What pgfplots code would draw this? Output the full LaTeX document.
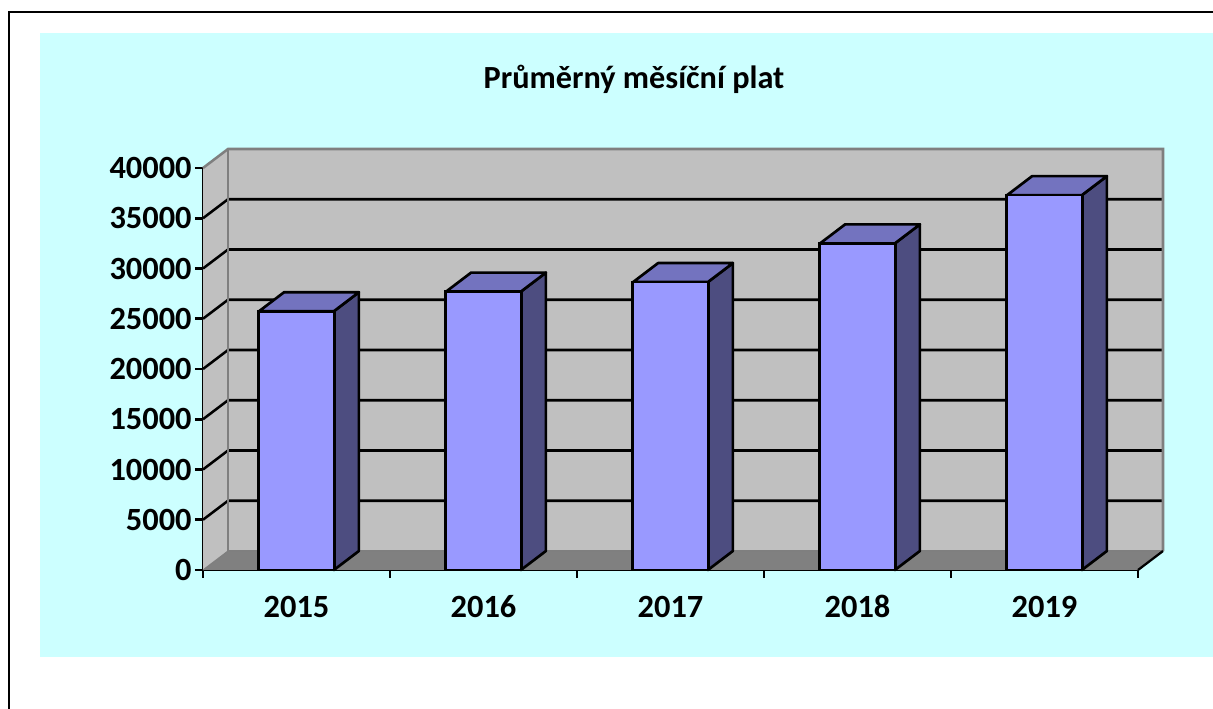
\documentclass[border=0pt]{standalone}
\usepackage{pgfplots}
\pgfplotsset{compat=1.18}
\usepackage{fontspec}
\setmainfont{Carlito}
\definecolor{bgc}{HTML}{CCFFFF}
\definecolor{wallc}{HTML}{C0C0C0}
\definecolor{floorc}{HTML}{808080}
\definecolor{edgec}{HTML}{7F7F7F}
\definecolor{frontc}{HTML}{9999FF}
\definecolor{topc}{HTML}{7373BF}
\definecolor{sidec}{HTML}{4D4D80}
\newcommand\gridl[2]{%
  \addplot[black,line width=1.9pt] coordinates {(0,#1) (0.1337,#2) (5.1337,#2)};}
\newcommand\cube[2]{%
  \addplot[fill=sidec,draw=black,line width=2pt,line join=round] coordinates {(#1+0.2,0) (#1+0.3337,1890) (#1+0.3337,#2+1890) (#1+0.2,#2)} -- cycle;
  \addplot[fill=topc,draw=black,line width=2pt,line join=round] coordinates {(#1-0.2,#2) (#1+0.2,#2) (#1+0.3337,#2+1890) (#1-0.0663,#2+1890)} -- cycle;}
\begin{document}
\begin{tikzpicture}
\useasboundingbox (0,0) rectangle (909.75pt,531.75pt);
\fill[white] (0,0) rectangle (909.75pt,531.75pt);
\draw[black,line width=1.7pt] (6.75pt,-4pt) -- (6.75pt,522.75pt) -- (915pt,522.75pt);
\fill[bgc] (30pt,39pt) rectangle (909.75pt,507pt);
\begin{axis}[
  at={(152.25pt,104.25pt)},anchor=south west,
  scale only axis,width=701.25pt,height=301.5pt,
  xmin=0,xmax=5,ymin=0,ymax=40000,
  clip=false,
  axis lines=left,
  axis line style={-,black,line width=2.2pt},
  xtick={0.5,1.5,2.5,3.5,4.5},
  xticklabels={2015,2016,2017,2018,2019},
  minor xtick={0,1,2,3,4,5},
  ytick={0,5000,10000,15000,20000,25000,30000,35000,40000},
  tick align=outside,
  major tick length=6pt,
  x tick style={draw=none},
  minor x tick style={draw=black,line width=1.9pt},
  minor tick length=6pt,
  y tick style={black,line width=1.9pt},
  scaled y ticks=false,
  /pgf/number format/assume math mode=true,
  /pgf/number format/1000 sep={},
  tick label style={font=\bfseries\fontsize{24.3}{27}\selectfont,black},
  xticklabel style={yshift=-10pt,text height=16pt,text depth=0pt},
  yticklabel style={xshift=1pt},
  title={Průměrný měsíční plat},
  title style={at={(0.461,1.201)},anchor=center,font=\bfseries\fontsize{24.2}{27}\selectfont},
]
% walls and floor
\addplot[fill=wallc,draw=none] coordinates {(0,0) (0.1337,1890) (0.1337,41890) (0,40000)} -- cycle;
\addplot[fill=wallc,draw=none] coordinates {(0.1337,1890) (5.1337,1890) (5.1337,41890) (0.1337,41890)} -- cycle;
\addplot[fill=floorc,draw=none] coordinates {(0,0) (5,0) (5.1337,1890) (0.1337,1890)} -- cycle;
% grid
\gridl{5000}{6890}
\gridl{10000}{11890}
\gridl{15000}{16890}
\gridl{20000}{21890}
\gridl{25000}{26890}
\gridl{30000}{31890}
\gridl{35000}{36890}
% wall edges
\addplot[edgec,line width=1.9pt] coordinates {(0,40000) (0.1337,41890) (5.1337,41890) (5.1337,1890)};
\addplot[edgec,line width=1.9pt] coordinates {(0.1337,41890) (0.1337,1890) (5.1337,1890)};
\addplot[edgec,line width=0.8pt] coordinates {(0,0) (0.1337,1890)};
\addplot[black,line width=1.7pt] coordinates {(5,0) (5.1337,1890)};
% bars: side and top faces, then front
\cube{0.5}{25750}
\cube{1.5}{27700}
\cube{2.5}{28650}
\cube{3.5}{32500}
\cube{4.5}{37300}
\addplot[ybar,bar shift=0pt,bar width=57pt,fill=frontc,draw=black,line width=2pt] coordinates {(0.5,25750) (1.5,27700) (2.5,28650) (3.5,32500) (4.5,37300)};
\end{axis}
\end{tikzpicture}
\end{document}
